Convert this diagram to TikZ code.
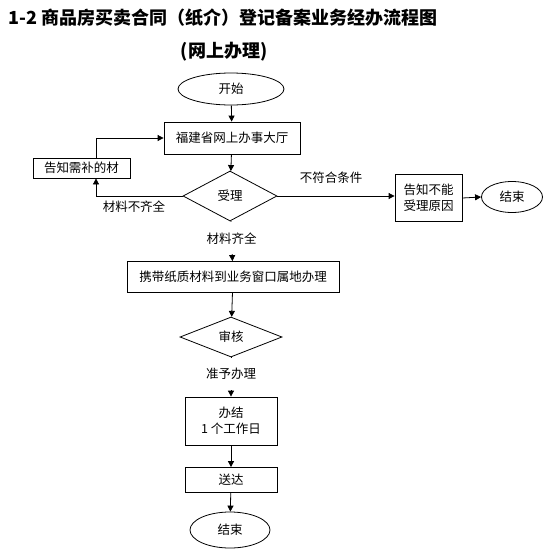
\documentclass[tikz,border=0pt]{standalone}
\usepackage{fontspec}
\setmainfont{Noto Sans CJK SC}
\usetikzlibrary{shapes.geometric,arrows.meta}

\tikzset{
  txt/.style={font=\fontsize{12.5}{16}\selectfont},
  procbox/.style={txt, draw, line width=0.8pt, inner sep=0pt, align=center},
  termnode/.style={txt, draw, ellipse, line width=0.8pt, inner sep=0pt},
  decision/.style={txt, draw, diamond, line width=0.8pt, inner sep=0pt},
  flow/.style={line width=0.8pt, -{Triangle[length=6pt,width=6pt]}},
  lbl/.style={txt, inner sep=1pt},
  gaplbl/.style={lbl, fill=white, minimum height=32pt, pos=0.43}
}

\begin{document}
\begin{tikzpicture}[x=1pt,y=-1pt]
\useasboundingbox (0,0) rectangle (551,555);

% =====================================================================
% Title lines
% =====================================================================
\node[anchor=west, inner sep=0pt, font=\fontsize{18}{22}\selectfont\bfseries]
  (title) at (8,18) {1-2 商品房买卖合同（纸介）登记备案业务经办流程图};
\node[inner sep=0pt, font=\fontsize{18}{22}\selectfont\bfseries]
  (subtitle) at (224,52) {(网上办理)};

% =====================================================================
% Main column   (centre x ~ 231)
% =====================================================================
\node[termnode, minimum width=106pt, minimum height=32pt] (start) at (231,89) {开始};
\node[procbox, minimum width=136pt, minimum height=32pt] (hall) at (232,138) {福建省网上办事大厅};
\node[decision, minimum width=94pt, minimum height=50pt] (accept) at (230,196) {受理};
\node[procbox, minimum width=212pt, minimum height=31pt] (carry) at (233,277) {携带纸质材料到业务窗口属地办理};
\node[decision, minimum width=102pt, minimum height=40pt] (audit) at (231,337) {审核};
\node[procbox, minimum width=92pt, minimum height=48pt] (done) at (231,421) {办结\\1 个工作日};
\node[procbox, minimum width=92pt, minimum height=25pt] (deliver) at (231,480) {送达};
\node[termnode, minimum width=80pt, minimum height=36pt] (finish) at (230,530) {结束};

% =====================================================================
% Side branches
% =====================================================================
% left: supplement loop
\node[procbox, minimum width=97pt, minimum height=20pt] (supply) at (81.5,168) {告知需补的材};
% right: rejection
\node[procbox, minimum width=67pt, minimum height=47pt] (reject) at (428.5,198) {告知不能\\受理原因};
\node[termnode, minimum width=61pt, minimum height=31pt] (rejend) at (512,197) {结束};

% =====================================================================
% Connectors
% =====================================================================
\draw[flow] (start) -- (hall);
\draw[flow] (hall) -- (accept);
% label hides the stem, only the tip shows
\draw[flow] (accept) -- node[gaplbl] (okmat) {材料齐全} (carry);
\draw[flow] (carry) -- (audit);
\draw[flow] (audit) -- node[gaplbl] (okaudit) {准予办理} (done);
\draw[flow] (done) -- (deliver);
\draw[flow] (deliver) -- (finish);

% loop back: not complete -> supplement -> hall
\draw[flow] (accept.west) -| ([xshift=14.5pt]supply.south);
\draw[flow] ([xshift=14.5pt]supply.north) |- (hall.west);
\node[lbl] (lackmat) at (134,207) {材料不齐全};

% rejection path
\draw[flow] (accept.east) -- (accept.east -| reject.west);
\node[lbl] (nocond) at (331,178) {不符合条件};
\draw[flow] (reject.east) -- (rejend.west);

\end{tikzpicture}
\end{document}
